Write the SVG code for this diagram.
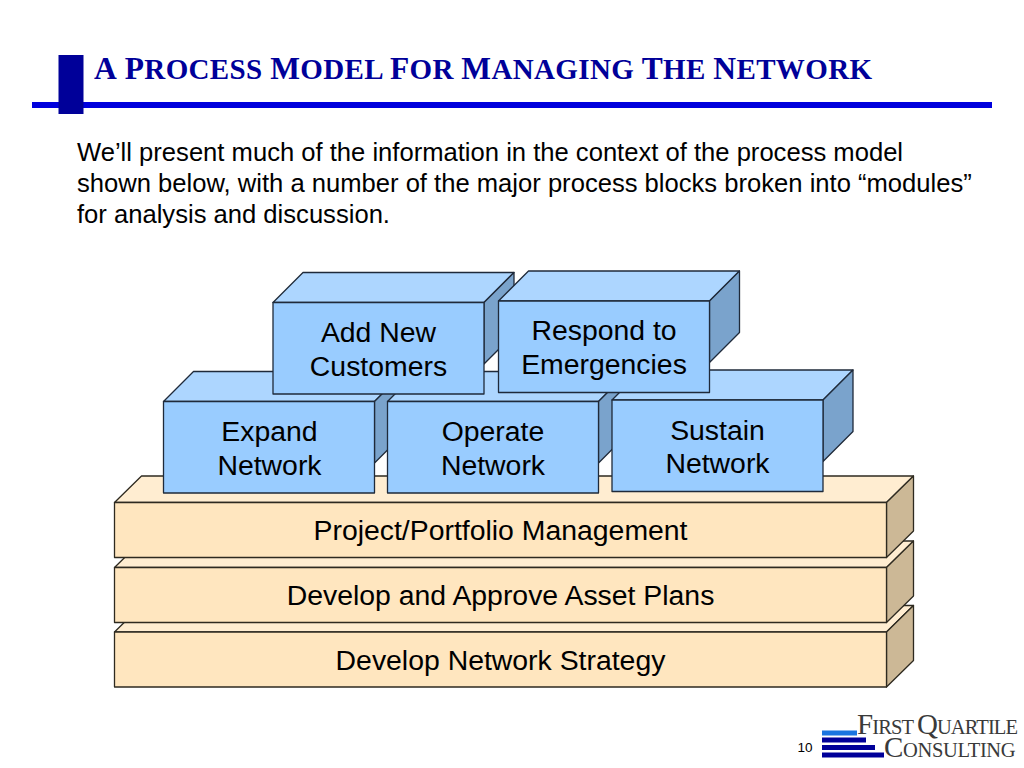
<svg xmlns="http://www.w3.org/2000/svg" width="1024" height="768" viewBox="0 0 1024 768">
<style>
text{font-family:"Liberation Sans",Arial,sans-serif;fill:#000}
.title{font-family:"Liberation Serif","Times New Roman",serif;font-weight:bold;font-size:29px;fill:#000099}
.cap{font-size:31.5px}
.body{font-size:25.6px}
.lab{font-size:28.4px;text-anchor:middle}
.num{font-size:13.5px}
.logo{font-family:"Liberation Serif","Times New Roman",serif;fill:#3a3a3a;font-size:20.5px}
.lcap{font-size:29px}
.s{stroke:#1f2a3a;stroke-width:1.3;stroke-linejoin:round}
.bf{fill:#99ccff}.bt{fill:#add6ff}.bs{fill:#7aa3cc}
.yf{fill:#ffe6bf}.yt{fill:#ffedd1}.ys{fill:#ccb896}
.y{stroke:#2e2a20}
</style>
<defs>
<g id="blue"><path class="s bt" d="M0 30L30 0H241L211 30Z"/><path class="s bs" d="M211 30L241 0V61.500L211 91.500Z"/><rect class="s bf" x="0" y="30" width="211" height="91.500"/></g>
<g id="beige"><path class="s y yt" d="M0 26.500L27 0H799L772 26.500Z"/><path class="s y ys" d="M772 26.500L799 0V55L772 81.500Z"/><rect class="s y yf" x="0" y="26.500" width="772" height="55"/></g>
</defs>
<rect width="1024" height="768" fill="#fff"/>
<g id="header">
<rect x="32" y="102" width="960" height="6" fill="#0000dd"/>
<rect x="58.500" y="55" width="25" height="59" fill="#000099"/>
<text class="title" x="94" y="79" textLength="778" lengthAdjust="spacing"><tspan class="cap">A</tspan> <tspan class="cap">P</tspan>ROCESS <tspan class="cap">M</tspan>ODEL <tspan class="cap">F</tspan>OR <tspan class="cap">M</tspan>ANAGING <tspan class="cap">T</tspan>HE <tspan class="cap">N</tspan>ETWORK</text>
</g>
<g id="intro">
<text class="body" x="77" y="161">We’ll present much of the information in the context of the process model</text>
<text class="body" x="77" y="192">shown below, with a number of the major process blocks broken into “modules”</text>
<text class="body" x="77" y="223">for analysis and discussion.</text>
</g>
<g id="connectors"></g>
<g id="strategy"><use href="#beige" x="114.500" y="605.500"/><text class="lab" x="500.500" y="670">Develop Network Strategy</text></g>
<g id="asset-plans"><use href="#beige" x="114.500" y="541"/><text class="lab" x="500.500" y="605">Develop and Approve Asset Plans</text></g>
<g id="portfolio"><use href="#beige" x="114.500" y="476"/><text class="lab" x="500.500" y="540">Project/Portfolio Management</text></g>
<g id="expand"><use href="#blue" x="163.500" y="371.500"/><text class="lab" x="269.500" y="441">Expand</text><text class="lab" x="269.500" y="475">Network</text></g>
<g id="operate"><use href="#blue" x="387.500" y="371.500"/><text class="lab" x="493" y="441">Operate</text><text class="lab" x="493" y="475">Network</text></g>
<g id="sustain"><use href="#blue" x="612" y="370"/><text class="lab" x="717.500" y="440">Sustain</text><text class="lab" x="717.500" y="473">Network</text></g>
<g id="add"><use href="#blue" x="273" y="272.500"/><text class="lab" x="378.500" y="342">Add New</text><text class="lab" x="378.500" y="376">Customers</text></g>
<g id="respond"><use href="#blue" x="498.500" y="271"/><text class="lab" x="604" y="340">Respond to</text><text class="lab" x="604" y="374">Emergencies</text></g>
<g id="footer">
<text class="num" x="797.500" y="752">10</text>
<rect x="822" y="730.500" width="35" height="5" fill="#1a75e0"/>
<rect x="822" y="737.500" width="44" height="5" fill="#000099"/>
<rect x="822" y="745" width="53" height="5" fill="#000099"/>
<rect x="822" y="752.500" width="62" height="5" fill="#000099"/>
<text class="logo" x="857" y="734" letter-spacing="-0.9"><tspan class="lcap">F</tspan>IRST <tspan class="lcap">Q</tspan>UARTILE</text>
<text class="logo" x="884" y="757" letter-spacing="-0.35"><tspan class="lcap">C</tspan>ONSULTING</text>
</g>
</svg>
